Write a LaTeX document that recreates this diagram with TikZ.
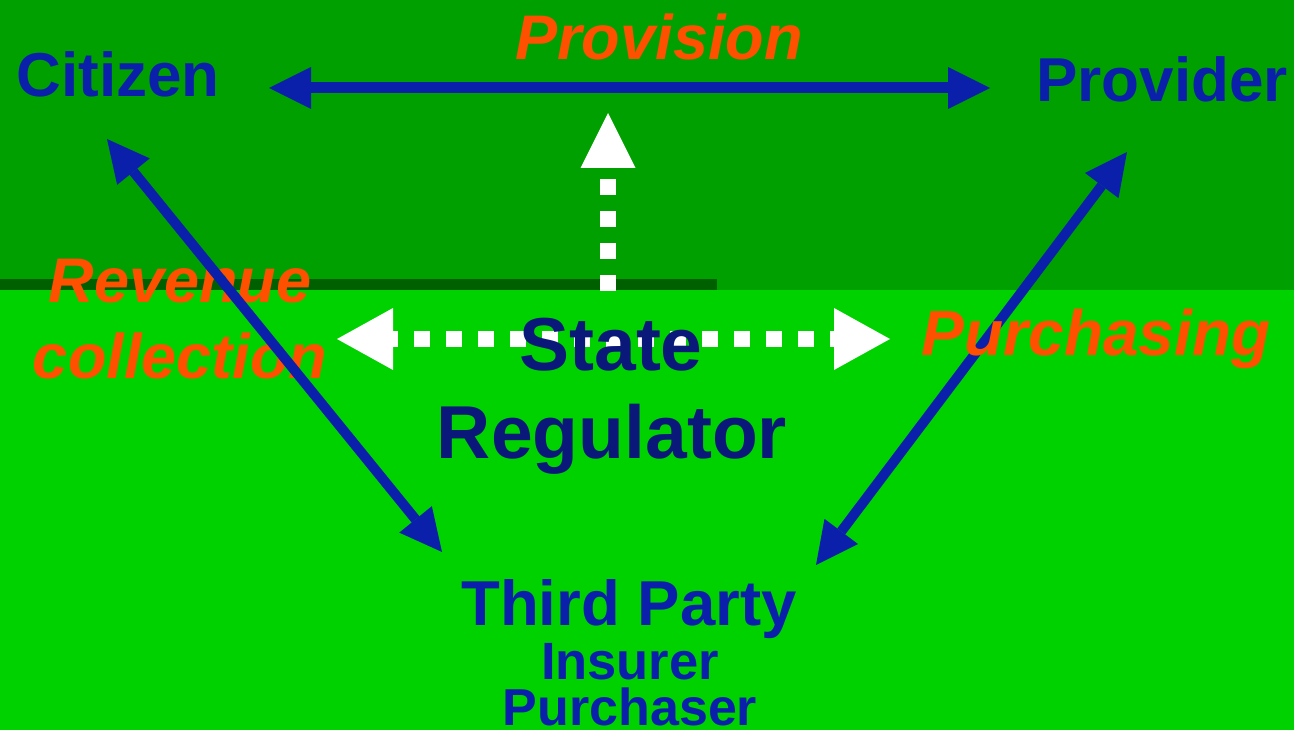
\documentclass[tikz,border=0pt]{standalone}
\usepackage{fontspec}
\setmainfont{Liberation Sans}
\usetikzlibrary{arrows.meta}
\definecolor{topgreen}{RGB}{0,160,0}
\definecolor{botgreen}{RGB}{0,210,0}
\definecolor{darkline}{RGB}{0,96,0}
\definecolor{txtblue}{RGB}{10,32,170}
\definecolor{navy}{RGB}{10,24,122}
\definecolor{orangered}{RGB}{255,80,0}
\tikzset{
  lbl/.style={anchor=base, inner sep=0pt, text=txtblue, font=\bfseries\fontsize{62}{62}\selectfont},
  olbl/.style={anchor=base, inner sep=0pt, text=orangered, font=\bfseries\itshape\fontsize{63}{63}\selectfont},
  bluearrow/.style={draw=txtblue, line width=#1, {Triangle[length=42pt,width=42pt,line width=0pt 0]}-{Triangle[length=42pt,width=42pt,line width=0pt 0]}},
  whitedash/.style={draw=white, line width=16pt, dash pattern=on 16pt off 16pt},
}
\begin{document}
\begin{tikzpicture}[x=1pt,y=-1pt]
\useasboundingbox (0,0) rectangle (1294,730);
% backgrounds
\fill[botgreen] (0,0) rectangle (1294,730);
\fill[topgreen] (0,0) rectangle (1294,290);
\fill[darkline] (0,279) rectangle (717,290);
% coordinates
\coordinate (citTip) at (107,139);
\coordinate (tpL) at (442,552);
\coordinate (provTip) at (1127,152);
\coordinate (tpR) at (816,565);
\coordinate (topL) at (269,88);
\coordinate (topR) at (990,88);
\coordinate (vBot) at (608,291);
\coordinate (vTip) at (608,113);
\coordinate (hL) at (337,339);
\coordinate (hR) at (890,339);
% texts behind lines
\node[olbl] (rev) at (180,303) {Revenue};
\node[olbl] (col) at (180,378) {collection};
% diagonal arrows
\draw[bluearrow=10pt] (citTip) -- (tpL);
\draw[bluearrow=10pt] (provTip) -- (tpR);
\node[olbl, font=\bfseries\itshape\fontsize{64}{64}\selectfont] (purch) at (1096,355) {Purchasing};
% top arrow
\draw[bluearrow=11pt] (topL) -- (topR);
% white arrows
\draw[whitedash, -{Triangle[length=55pt,width=55pt,line width=0pt 0]}] (vBot) -- (vTip);
\draw[whitedash, dash phase=11pt, {Triangle[length=56pt,width=62pt,line width=0pt 0]}-{Triangle[length=56pt,width=62pt,line width=0pt 0]}] (hL) -- (hR);
% labels
\node[lbl] (citizen) at (118,97) {Citizen};
\node[lbl] (provider) at (1162,102) {Provider};
\node[olbl] (provision) at (659,60) {Provision};
\node[anchor=base, inner sep=0pt, text=navy, font=\bfseries\fontsize{75}{75}\selectfont] (state) at (611,370) {State};
\node[anchor=base, inner sep=0pt, text=navy, font=\bfseries\fontsize{75}{75}\selectfont] (reg) at (612,458) {Regulator};
\node[lbl, font=\bfseries\fontsize{63.5}{63.5}\selectfont] (third) at (629,625) {Third Party};
\node[lbl, font=\bfseries\fontsize{52.5}{52.5}\selectfont] (ins) at (630,679) {Insurer};
\node[lbl, font=\bfseries\fontsize{52}{52}\selectfont] (pur) at (630,725) {Purchaser};
\end{tikzpicture}
\end{document}
